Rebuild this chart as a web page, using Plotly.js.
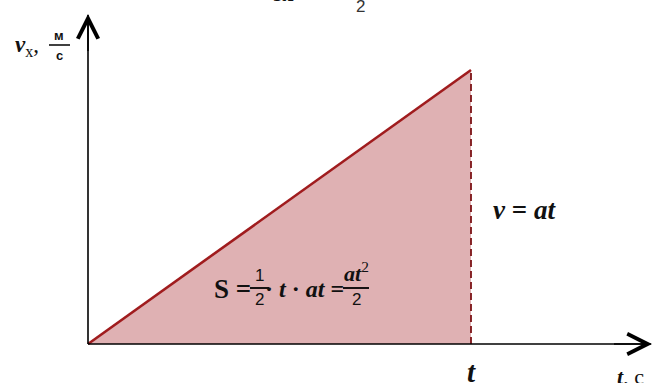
<!DOCTYPE html>
<html>
<head>
<meta charset="utf-8">
<script src="https://cdn.plot.ly/plotly-3.0.1.min.js"></script>
<style>
html, body { margin: 0; padding: 0; background: #fff; }
#graph1 { width: 653px; height: 383px; }
</style>
</head>
<body>
<div id="graph1"></div>
<script>
// motion from rest: time and speed at start and end (units t and a*t)
var times = [0, 1];
var speeds = [0, 1];
var tickLabel = 't';

// pixel -> data helpers, origin of the axes is at pixel (88, 344)
function px(x) { return (x - 88) / 383; }
function py(y) { return (344 - y) / 274; }

var serif = 'Liberation Serif, Times New Roman, serif';
var sans = 'Liberation Sans, Arial, sans-serif';

function txt(x, y, text, size, extra) {
    var a = {
        x: px(x), y: py(y), xref: 'x', yref: 'y',
        text: text, showarrow: false,
        xanchor: 'center', yanchor: 'middle',
        font: { family: serif, size: size, color: '#111' }
    };
    for (var k in extra) a[k] = extra[k];
    return a;
}

function arrowHead(x, y, ax, ay) {
    return {
        x: px(x), y: py(y), xref: 'x', yref: 'y',
        ax: ax, ay: ay, text: ' ', font: { size: 2 },
        showarrow: true, arrowhead: 5, arrowsize: 2.5, arrowwidth: 1.6,
        arrowcolor: '#000'
    };
}

function line(x0, y0, x1, y1, w) {
    return {
        type: 'line', xref: 'x', yref: 'y', layer: 'above',
        x0: px(x0), y0: py(y0), x1: px(x1), y1: py(y1),
        line: { color: '#000', width: w }
    };
}

var traces = [
    {
        x: times,
        y: speeds,
        mode: 'lines',
        fill: 'tozeroy',
        fillcolor: 'rgb(223,177,179)',
        line: { color: 'rgb(160,28,30)', width: 2.6 },
        hoverinfo: 'skip'
    },
    {
        x: [times[1], times[1]],
        y: [0, speeds[1]],
        mode: 'lines',
        line: { color: 'rgb(125,18,22)', width: 1.8, dash: '7px,4px' },
        hoverinfo: 'skip'
    }
];

var annotations = [
    // axis arrow heads
    arrowHead(88, 14, 0, 40),
    arrowHead(652, 344, -40, 0),

    // cut off formula at the very top
    txt(283, 0, '<b><i>s</i>x</b>', 22, { yanchor: 'bottom', y: py(8) }),
    txt(360, 6, '2', 18, { font: { family: sans, size: 17, color: '#333' } }),

    // y axis label
    txt(27, 46, '<b><i>v</i></b><sub>x</sub>,', 23),
    txt(59, 35, '<b>м</b>', 13, { font: { family: sans, size: 13, color: '#111' } }),
    txt(59, 55, '<b>с</b>', 13, { font: { family: sans, size: 13, color: '#111' } }),

    // v = at next to the dashed line
    txt(524, 210, '<b><i>v</i> = <i>at</i></b>', 27),

    // area formula
    txt(232, 289, '<b>S =</b>', 27),
    txt(259, 275, '1', 18, { font: { family: sans, size: 17, color: '#111' } }),
    txt(259, 299, '2', 18, { font: { family: sans, size: 17, color: '#111' } }),
    txt(304, 289, '<b>· <i>t</i> · <i>at</i> =</b>', 24),
    txt(356, 272, '<b><i>at</i></b><sup>2</sup>', 22),
    txt(356, 299, '2', 18, { font: { family: sans, size: 17, color: '#111' } }),

    // x axis ticks and label
    txt(times[1] * 383 + 88, 372, '<b><i>' + tickLabel + '</i></b>', 29),
    txt(630, 376, '<b><i>t</i></b>, с', 22)
];

var shapes = [
    line(88, 344, 88, 15, 1.6),
    line(88, 344, 651, 344, 1.6),
    line(49, 45, 70, 45, 1.5),
    line(250, 288, 269, 288, 1.8),
    line(343, 288, 369, 288, 1.8)
];

Plotly.newPlot('graph1', traces, {
    width: 653,
    height: 383,
    margin: { l: 0, r: 0, t: 0, b: 0, pad: 0 },
    paper_bgcolor: '#fff',
    plot_bgcolor: '#fff',
    showlegend: false,
    xaxis: { range: [px(0), px(653)], visible: false, fixedrange: true },
    yaxis: { range: [py(383), py(0)], visible: false, fixedrange: true },
    annotations: annotations,
    shapes: shapes
}, { staticPlot: true, displayModeBar: false });
</script>
</body>
</html>
